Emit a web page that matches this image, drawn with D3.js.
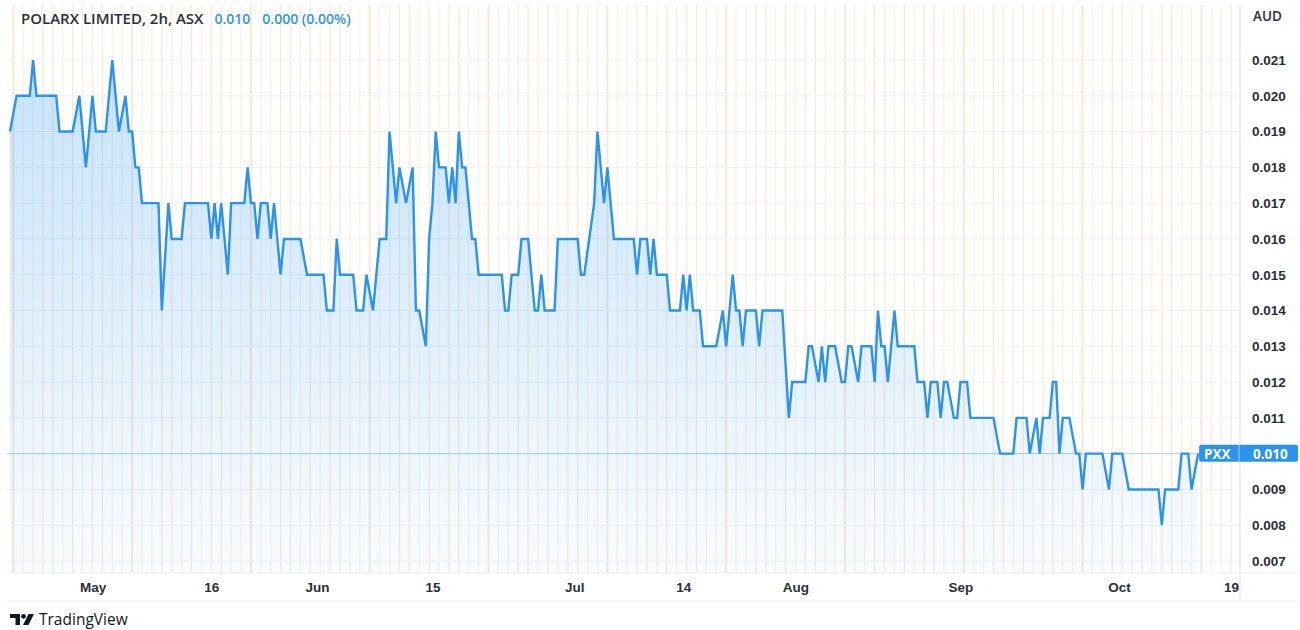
<!DOCTYPE html>
<html>
<head>
<meta charset="utf-8">
<script src="https://cdn.jsdelivr.net/npm/d3@7"></script>
<style>
  html, body { margin: 0; padding: 0; background: #fff; }
  svg { display: block; font-family: "Open Sans", "Lato", sans-serif; }
</style>
</head>
<body>
<svg id="chart" width="1300" height="630"></svg>
<script>
// bar index (2h bars, gaps removed) of each turning point, and its close
const bars = [
  0, 2, 6, 7, 8, 14, 15, 19, 21, 23, 25, 26, 29, 31, 33, 35, 36, 37, 38, 39,
  40, 45, 46, 48, 49, 52, 53, 60, 61, 62, 63, 64, 66, 67, 71, 72, 73, 74, 75, 76,
  78, 79, 80, 82, 83, 88, 90, 95, 96, 98, 99, 100, 104, 105, 107, 108, 110, 112, 114, 115,
  117, 118, 120, 122, 123, 124, 126, 127, 128, 129, 130, 132, 133, 134, 135, 136, 137, 138, 140, 141,
  142, 149, 150, 151, 152, 154, 155, 157, 159, 160, 161, 162, 165, 166, 172, 173, 174, 177, 178, 180,
  181, 183, 189, 190, 191, 193, 194, 195, 196, 199, 200, 203, 204, 205, 206, 207, 209, 210, 214, 216,
  217, 218, 219, 220, 221, 222, 223, 226, 227, 228, 234, 236, 237, 241, 242, 243, 245, 246, 247, 248,
  250, 252, 253, 254, 255, 257, 258, 261, 262, 263, 264, 265, 266, 268, 269, 274, 275, 277, 278, 279,
  281, 282, 283, 284, 286, 287, 288, 290, 291, 298, 300, 304, 305, 308, 309, 311, 312, 313, 315, 316,
  317, 318, 319, 321, 323, 324, 325, 326, 331, 333, 334, 337, 339, 348, 349, 350, 354, 355, 357, 358,
  360
];
const prices = [
  0.019, 0.020, 0.020, 0.021, 0.020, 0.020, 0.019, 0.019, 0.020, 0.018, 0.020, 0.019, 0.019, 0.021, 0.019, 0.020, 0.019, 0.019, 0.018, 0.018,
  0.017, 0.017, 0.014, 0.017, 0.016, 0.016, 0.017, 0.017, 0.016, 0.017, 0.016, 0.017, 0.015, 0.017, 0.017, 0.018, 0.017, 0.017, 0.016, 0.017,
  0.017, 0.016, 0.017, 0.015, 0.016, 0.016, 0.015, 0.015, 0.014, 0.014, 0.016, 0.015, 0.015, 0.014, 0.014, 0.015, 0.014, 0.016, 0.016, 0.019,
  0.017, 0.018, 0.017, 0.018, 0.014, 0.014, 0.013, 0.016, 0.017, 0.019, 0.018, 0.018, 0.017, 0.018, 0.017, 0.019, 0.018, 0.018, 0.016, 0.016,
  0.015, 0.015, 0.014, 0.014, 0.015, 0.015, 0.016, 0.016, 0.014, 0.014, 0.015, 0.014, 0.014, 0.016, 0.016, 0.015, 0.015, 0.017, 0.019, 0.017,
  0.018, 0.016, 0.016, 0.015, 0.016, 0.016, 0.015, 0.016, 0.015, 0.015, 0.014, 0.014, 0.015, 0.014, 0.015, 0.014, 0.014, 0.013, 0.013, 0.014,
  0.013, 0.014, 0.015, 0.014, 0.014, 0.013, 0.014, 0.014, 0.013, 0.014, 0.014, 0.011, 0.012, 0.012, 0.013, 0.013, 0.012, 0.013, 0.012, 0.013,
  0.013, 0.012, 0.012, 0.013, 0.013, 0.012, 0.013, 0.013, 0.012, 0.014, 0.013, 0.013, 0.012, 0.014, 0.013, 0.013, 0.012, 0.012, 0.011, 0.012,
  0.012, 0.011, 0.012, 0.012, 0.011, 0.011, 0.012, 0.012, 0.011, 0.011, 0.010, 0.010, 0.011, 0.011, 0.010, 0.011, 0.010, 0.011, 0.011, 0.012,
  0.012, 0.010, 0.011, 0.011, 0.010, 0.010, 0.009, 0.010, 0.010, 0.009, 0.010, 0.010, 0.009, 0.009, 0.008, 0.009, 0.009, 0.010, 0.010, 0.009,
  0.010
];

const priceTicks = [0.021, 0.020, 0.019, 0.018, 0.017, 0.016, 0.015, 0.014, 0.013, 0.012, 0.011, 0.010, 0.009, 0.008, 0.007];
const timeLabels = ['May', '16', 'Jun', '15', 'Jul', '14', 'Aug', 'Sep', 'Oct', '19'];
const timeBars = [25, 61, 93, 128, 171, 204, 238, 288, 336, 370];

const symbol = 'PXX';
const title = 'POLARX LIMITED, 2h, ASX';
const lastPrice = 0.010;
const change = '0.000 (0.00%)';

const svg = d3.select('#chart');
const blue = '#2a93ec';
const ink = '#2a2e39';

// ---- layout
const plot = { left: 7, right: 1240, top: 5, bottom: 573 };
const lastBar = bars[bars.length - 1];

const x = d3.scaleLinear().domain([0, 373]).range([10, 1241]);
const y = d3.scaleLinear().domain([0.007, 0.021]).range([561, 60]);

const data = bars.map((b, i) => ({ bar: b, price: prices[i] }));

// gradient for area
const defs = svg.append('defs');
const grad = defs.append('linearGradient')
  .attr('id', 'areaFill')
  .attr('x1', 0).attr('y1', 0).attr('x2', 0).attr('y2', 1);
grad.append('stop').attr('offset', '0%').attr('stop-color', '#2196f3').attr('stop-opacity', 0.26);
grad.append('stop').attr('offset', '100%').attr('stop-color', '#2196f3').attr('stop-opacity', 0.03);

defs.append('clipPath').attr('id', 'plotClip')
  .append('rect')
  .attr('x', plot.left).attr('y', plot.top)
  .attr('width', plot.right - plot.left).attr('height', plot.bottom - plot.top);

// session stripes (background decoration)
const stripes = svg.append('g').attr('clip-path', 'url(#plotClip)');
stripes.selectAll('line')
  .data(d3.range(1, 373, 3))
  .join('line')
  .attr('x1', d => x(d)).attr('x2', d => x(d))
  .attr('y1', plot.top).attr('y2', plot.bottom)
  .attr('stroke', '#fbe0c0')
  .attr('stroke-width', (d, i) => (i % 4 === 0 ? 2.2 : 1.3))
  .attr('stroke-opacity', (d, i) => (i % 3 === 0 ? 0.7 : 0.45));

// horizontal grid
svg.append('g')
  .selectAll('line')
  .data(priceTicks)
  .join('line')
  .attr('x1', plot.left).attr('x2', plot.right)
  .attr('y1', d => y(d)).attr('y2', d => y(d))
  .attr('stroke', '#eef1f6')
  .attr('stroke-width', 1);

// area + line
const area = d3.area()
  .x(d => x(d.bar))
  .y0(plot.bottom)
  .y1(d => y(d.price));

const line = d3.line()
  .x(d => x(d.bar))
  .y(d => y(d.price));

svg.append('path')
  .datum(data)
  .attr('d', area)
  .attr('fill', 'url(#areaFill)');

// last price line
svg.append('line')
  .attr('x1', plot.left).attr('x2', plot.right)
  .attr('y1', y(lastPrice)).attr('y2', y(lastPrice))
  .attr('stroke', blue)
  .attr('stroke-opacity', 0.35)
  .attr('stroke-width', 1);

svg.append('path')
  .datum(data)
  .attr('d', line)
  .attr('fill', 'none')
  .attr('stroke', blue)
  .attr('stroke-width', 2.4)
  .attr('stroke-linejoin', 'miter');

// frame
svg.append('line')
  .attr('x1', plot.right).attr('x2', plot.right)
  .attr('y1', plot.top).attr('y2', 601)
  .attr('stroke', '#e0e3eb');
svg.append('line')
  .attr('x1', plot.left).attr('x2', 1300)
  .attr('y1', plot.bottom).attr('y2', plot.bottom)
  .attr('stroke', '#eceef3');
svg.append('line')
  .attr('x1', plot.left).attr('x2', 1300)
  .attr('y1', 601).attr('y2', 601)
  .attr('stroke', '#eceef3');

// right price axis
const yAxis = svg.append('g')
  .attr('transform', `translate(${plot.right},0)`)
  .call(d3.axisRight(y).tickValues(priceTicks).tickFormat(d3.format('.3f')).tickSize(0).tickPadding(12));
yAxis.select('.domain').remove();
yAxis.selectAll('text')
  .style('font-size', '13.5px')
  .style('font-weight', 600)
  .attr('fill', ink);

svg.append('text')
  .attr('x', 1253).attr('y', 21)
  .style('font-size', '13.5px')
  .style('font-weight', 600)
  .attr('fill', ink)
  .text('AUD');

// bottom time axis
const xAxis = svg.append('g')
  .attr('transform', `translate(0,${plot.bottom})`)
  .call(d3.axisBottom(x).tickValues(timeBars).tickFormat((d, i) => timeLabels[i]).tickSize(0).tickPadding(9));
xAxis.select('.domain').remove();
xAxis.selectAll('text')
  .style('font-size', '13.5px')
  .style('font-weight', 600)
  .attr('fill', ink);

// price label
const tag = svg.append('g');
tag.append('rect')
  .attr('x', x(lastBar) + 1).attr('y', y(lastPrice) - 9)
  .attr('width', 1298 - x(lastBar) - 1).attr('height', 17)
  .attr('rx', 2)
  .attr('fill', blue);
tag.append('line')
  .attr('x1', plot.right - 1).attr('x2', plot.right - 1)
  .attr('y1', y(lastPrice) - 9).attr('y2', y(lastPrice) + 8)
  .attr('stroke', '#ffffff').attr('stroke-opacity', 0.6);
tag.append('text')
  .attr('x', x(lastBar) + 6).attr('y', y(lastPrice) + 5)
  .style('font-size', '13.5px').style('font-weight', 700)
  .attr('fill', '#fff')
  .text(symbol);
tag.append('text')
  .attr('x', 1253).attr('y', y(lastPrice) + 5)
  .style('font-size', '13.5px').style('font-weight', 700)
  .attr('fill', '#fff')
  .text(d3.format('.3f')(lastPrice));

// header
const header = svg.append('text')
  .attr('x', 21).attr('y', 24)
  .style('font-weight', 600);
header.append('tspan').attr('fill', ink).style('font-size', '15px').text(title);
header.append('tspan').attr('fill', '#2d95ef').style('font-size', '14px').attr('dx', 11).text(d3.format('.3f')(lastPrice));
header.append('tspan').attr('fill', '#2d95ef').style('font-size', '14px').attr('dx', 12).text(change);

// TradingView mark
const logo = svg.append('g').attr('fill', '#131722');
logo.append('path').attr('d', 'M10 614 h10 v11 h-4.5 v-7 h-5.5 z');
logo.append('circle').attr('cx', 23.5).attr('cy', 616.3).attr('r', 2.4);
logo.append('path').attr('d', 'M28.5 614 h5.5 l-5.5 11 h-5.5 z');
svg.append('text')
  .attr('x', 39).attr('y', 625)
  .style('font-size', '15.5px')
  .attr('fill', '#131722')
  .text('TradingView');
</script>
</body>
</html>
